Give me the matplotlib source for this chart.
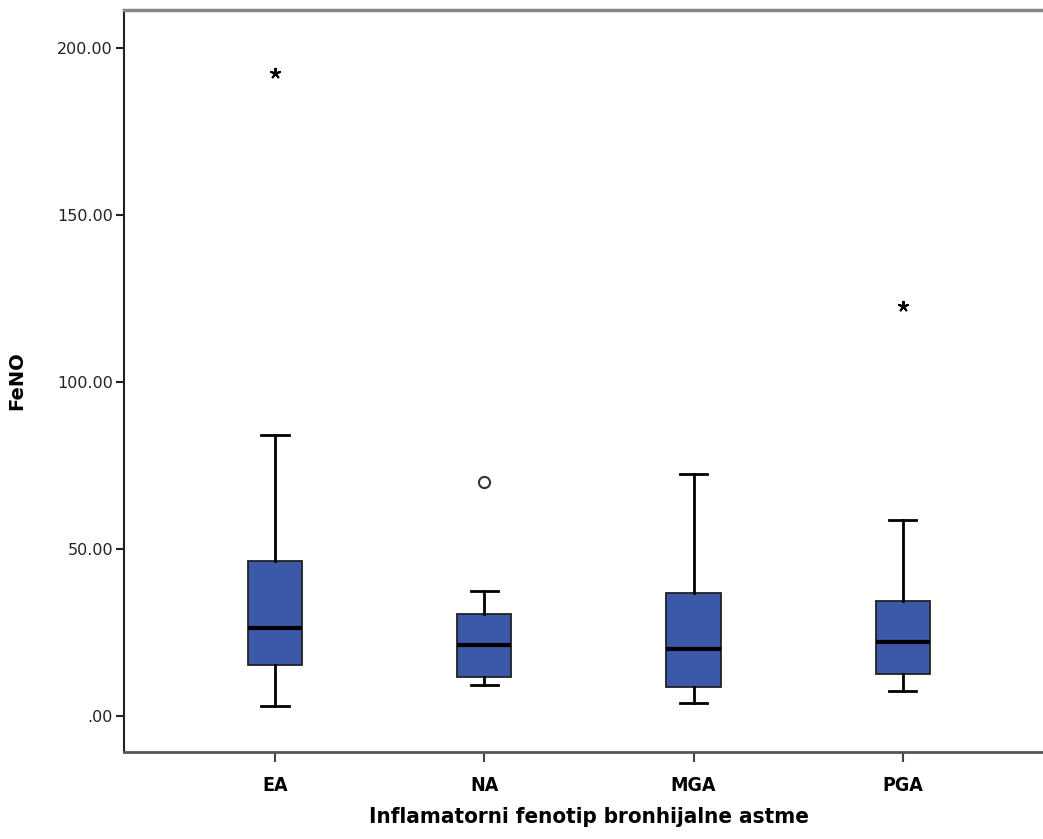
import matplotlib.pyplot as plt

# FeNO summary per inflammatory phenotype (five-number summary + outliers)
groups = ["EA", "NA", "MGA", "PGA"]
whisker_low = [3.0, 9.3, 3.8, 7.6]
q1 = [15.3, 11.8, 8.8, 12.6]
median = [26.4, 21.3, 20.0, 22.1]
q3 = [46.5, 30.5, 36.7, 34.5]
whisker_high = [84.1, 37.4, 72.5, 58.7]
extreme_outliers = [[192.5], [], [], [122.8]]   # drawn as stars
mild_outliers = [[], [70.1], [], []]            # drawn as circles

box_color = "#3C58A8"

stats = []
for i, g in enumerate(groups):
    stats.append({
        "label": g,
        "whislo": whisker_low[i],
        "q1": q1[i],
        "med": median[i],
        "q3": q3[i],
        "whishi": whisker_high[i],
        "fliers": [],
    })

fig = plt.figure(figsize=(10.43, 8.39), dpi=100)
# axes right edge runs slightly past the figure edge
ax = fig.add_axes([124 / 1043, 1 - 752 / 839, (1054 - 124) / 1043, (752 - 10) / 839])

positions = list(range(1, len(groups) + 1))
ax.bxp(stats, positions=positions, widths=0.26, patch_artist=True,
       showfliers=False,
       boxprops=dict(facecolor=box_color, edgecolor="#222222", linewidth=1.3),
       medianprops=dict(color="black", linewidth=3),
       whiskerprops=dict(color="black", linewidth=2),
       capprops=dict(color="black", linewidth=2),
       capwidths=0.13)

for p, vals in zip(positions, extreme_outliers):
    if vals:
        ax.plot([p] * len(vals), vals, linestyle="none", marker=(5, 2, 0),
                markersize=8, color="black", markeredgewidth=1.4)
for p, vals in zip(positions, mild_outliers):
    if vals:
        ax.plot([p] * len(vals), vals, linestyle="none", marker="o",
                markersize=8, markerfacecolor="white", markeredgecolor="#333333",
                markeredgewidth=1.5)

ax.set_xlim(0.279, 4.722)
ax.set_ylim(-10.8, 211.4)

narrow = dict(family="DejaVu Sans", fontstretch="condensed", fontweight="bold")

yticks = [0, 50, 100, 150, 200]
ax.set_yticks(yticks)
ax.set_yticklabels([".00" if v == 0 else f"{v:.2f}" for v in yticks],
                   fontsize=11.5, family="DejaVu Sans", color="#222222")
ax.set_xticks(positions)
ax.set_xticklabels(groups, fontsize=14, **narrow)

ax.tick_params(axis="y", direction="out", length=6, width=1.5, color="#222222", pad=2)
ax.tick_params(axis="x", direction="out", length=7, width=1.5, color="#444444", pad=10)

ax.set_ylabel("FeNO", fontsize=14, fontweight="bold", family="DejaVu Sans", labelpad=22)
ax.set_xlabel("Inflamatorni fenotip bronhijalne astme", fontsize=16,
              labelpad=9, **narrow)

ax.spines["left"].set_color("#222222")
ax.spines["left"].set_linewidth(1.5)
ax.spines["bottom"].set_color("#555555")
ax.spines["bottom"].set_linewidth(2)
ax.spines["top"].set_color("#888888")
ax.spines["top"].set_linewidth(2.5)
ax.spines["right"].set_visible(False)

fig.savefig("out.png", dpi=100)
